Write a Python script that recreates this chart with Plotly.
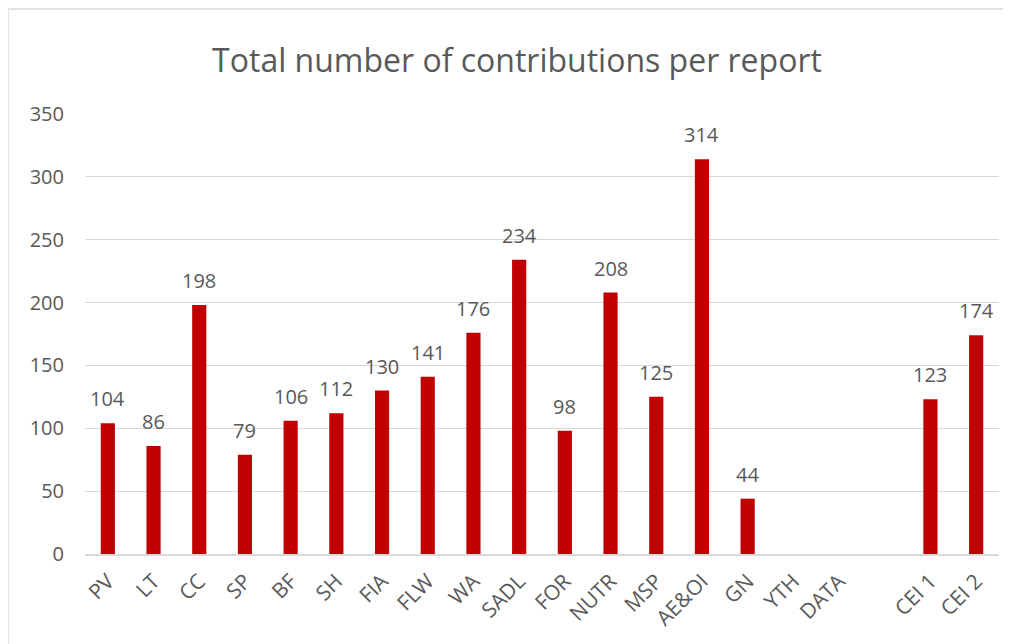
import plotly.graph_objects as go

categories = ["PV", "LT", "CC", "SP", "BF", "SH", "FIA", "FLW", "WA", "SADL",
              "FOR", "NUTR", "MSP", "AE&OI", "GN", "YTH", "DATA", " ", "CEI 1", "CEI 2"]
values = [104, 86, 198, 79, 106, 112, 130, 141, 176, 234,
          98, 208, 125, 314, 44, None, None, None, 123, 174]
y_ticks = [0, 50, 100, 150, 200, 250, 300, 350]

FONT = "Open Sans"
GRAY = "#595959"
BAR = "#C00000"

# page has an 8px body margin -> figure is drawn 8px lower/right; compensate
W, H = 1003, 636
L, T, R, B = 77, 106, 12, 90
pw, ph = W - L - R, H - T - B

fig = go.Figure()
fig.add_trace(go.Bar(x=categories, y=values, marker=dict(color=BAR, line=dict(width=0)),
                     hoverinfo="x+y"))

for c, v in zip(categories, values):
    if v is not None:
        fig.add_annotation(x=c, y=v, text=str(v), showarrow=False, yanchor="bottom",
                           yshift=9, font=dict(family=FONT, size=20, color=GRAY))

# light outer chart border (left & top visible)
fig.add_shape(type="rect", xref="paper", yref="paper",
              x0=(0 - L) / pw, x1=(W + 20 - L) / pw,
              y0=-(B + 20) / ph, y1=(ph + T - 1) / ph,
              line=dict(color="#d9d9d9", width=1.5), fillcolor="rgba(0,0,0,0)", layer="below")

fig.update_layout(
    width=W, height=H,
    margin=dict(l=L, r=R, t=T, b=B),
    paper_bgcolor="white", plot_bgcolor="white",
    bargap=0.69,
    showlegend=False,
    title=dict(text="Total number of contributions per report", x=(517 - 8) / W, xanchor="center",
               y=1 - 53 / H, yanchor="middle", xref="container",
               font=dict(family=FONT, size=32, color=GRAY)),
    font=dict(family=FONT, color=GRAY),
)
fig.update_xaxes(type="category", tickangle=-45, tickfont=dict(family=FONT, size=21, color=GRAY),
                 showline=True, linecolor="#d9d9d9", linewidth=1.5, showgrid=False,
                 ticks="", ticklabelstandoff=5, fixedrange=True)
fig.update_yaxes(range=[0, 350], tickvals=y_ticks, showgrid=True, gridcolor="#d9d9d9", gridwidth=1,
                 zeroline=False, showline=False, ticks="", ticklabelstandoff=20,
                 tickfont=dict(family=FONT, size=20, color=GRAY), fixedrange=True)

fig.write_html("out.html")
